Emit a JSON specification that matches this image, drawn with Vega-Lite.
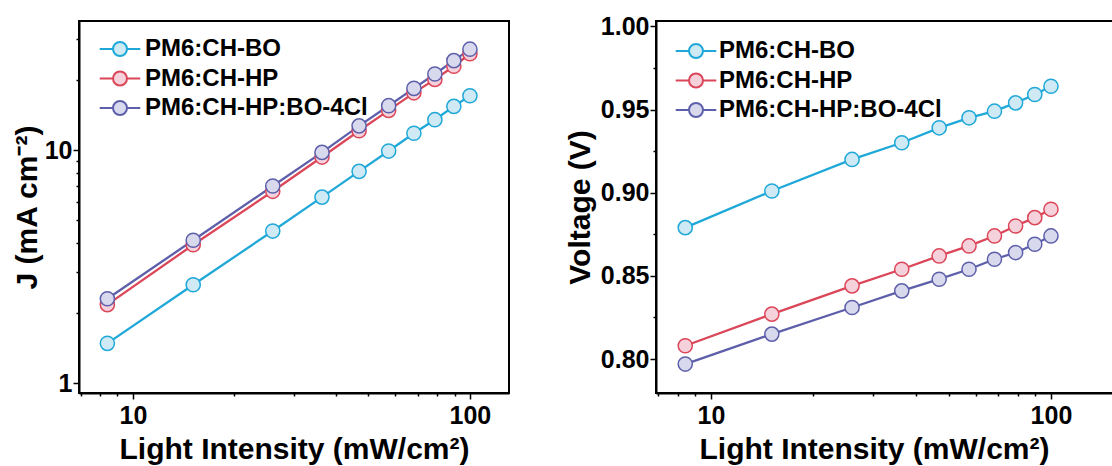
{
  "$schema": "https://vega.github.io/schema/vega-lite/v6.json",
  "autosize": {"type": "pad"},
  "padding": {"left": 11, "top": 13, "right": 0, "bottom": 0},
  "bounds": "flush",
  "spacing": 147,
  "config": {
    "font": "Liberation Sans",
    "view": {"stroke": "black", "strokeWidth": 2},
    "axis": {
      "domainColor": "black", "domainWidth": 2, "tickColor": "black", "tickWidth": 1.5,
      "labelFont": "Liberation Sans", "labelFontWeight": "bold", "labelFontSize": 25, "labelColor": "black",
      "titleFont": "Liberation Sans", "titleFontWeight": "bold", "titleFontSize": 30, "titleColor": "black",
      "grid": false
    },
    "legend": {"labelLimit": 500}
  },
  "datasets": {
    "jsc": [
      {"s": "PM6:CH-BO", "I": 8.4, "J": 1.48}, {"s": "PM6:CH-BO", "I": 15.1, "J": 2.64}, {"s": "PM6:CH-BO", "I": 26, "J": 4.49}, {"s": "PM6:CH-BO", "I": 36.4, "J": 6.28}, {"s": "PM6:CH-BO", "I": 46.9, "J": 8.1}, {"s": "PM6:CH-BO", "I": 57.4, "J": 9.9}, {"s": "PM6:CH-BO", "I": 68.2, "J": 11.8}, {"s": "PM6:CH-BO", "I": 78.7, "J": 13.5}, {"s": "PM6:CH-BO", "I": 89.6, "J": 15.4}, {"s": "PM6:CH-BO", "I": 100, "J": 17.1},
      {"s": "PM6:CH-HP", "I": 8.4, "J": 2.17}, {"s": "PM6:CH-HP", "I": 15.1, "J": 3.92}, {"s": "PM6:CH-HP", "I": 26, "J": 6.65}, {"s": "PM6:CH-HP", "I": 36.4, "J": 9.33}, {"s": "PM6:CH-HP", "I": 46.9, "J": 12.1}, {"s": "PM6:CH-HP", "I": 57.4, "J": 14.8}, {"s": "PM6:CH-HP", "I": 68.2, "J": 17.6}, {"s": "PM6:CH-HP", "I": 78.7, "J": 20.1}, {"s": "PM6:CH-HP", "I": 89.6, "J": 22.9}, {"s": "PM6:CH-HP", "I": 100, "J": 25.9},
      {"s": "PM6:CH-HP:BO-4Cl", "I": 8.4, "J": 2.3}, {"s": "PM6:CH-HP:BO-4Cl", "I": 15.1, "J": 4.1}, {"s": "PM6:CH-HP:BO-4Cl", "I": 26, "J": 7.01}, {"s": "PM6:CH-HP:BO-4Cl", "I": 36.4, "J": 9.77}, {"s": "PM6:CH-HP:BO-4Cl", "I": 46.9, "J": 12.7}, {"s": "PM6:CH-HP:BO-4Cl", "I": 57.4, "J": 15.5}, {"s": "PM6:CH-HP:BO-4Cl", "I": 68.2, "J": 18.4}, {"s": "PM6:CH-HP:BO-4Cl", "I": 78.7, "J": 21.2}, {"s": "PM6:CH-HP:BO-4Cl", "I": 89.6, "J": 24.2}, {"s": "PM6:CH-HP:BO-4Cl", "I": 100, "J": 27.1}
    ],
    "voc": [
      {"s": "PM6:CH-BO", "I": 8.4, "V": 0.879}, {"s": "PM6:CH-BO", "I": 15.1, "V": 0.901}, {"s": "PM6:CH-BO", "I": 26, "V": 0.92}, {"s": "PM6:CH-BO", "I": 36.4, "V": 0.93}, {"s": "PM6:CH-BO", "I": 46.9, "V": 0.939}, {"s": "PM6:CH-BO", "I": 57.4, "V": 0.945}, {"s": "PM6:CH-BO", "I": 68.2, "V": 0.949}, {"s": "PM6:CH-BO", "I": 78.7, "V": 0.954}, {"s": "PM6:CH-BO", "I": 89.6, "V": 0.959}, {"s": "PM6:CH-BO", "I": 100, "V": 0.964},
      {"s": "PM6:CH-HP", "I": 8.4, "V": 0.808}, {"s": "PM6:CH-HP", "I": 15.1, "V": 0.827}, {"s": "PM6:CH-HP", "I": 26, "V": 0.844}, {"s": "PM6:CH-HP", "I": 36.4, "V": 0.854}, {"s": "PM6:CH-HP", "I": 46.9, "V": 0.862}, {"s": "PM6:CH-HP", "I": 57.4, "V": 0.868}, {"s": "PM6:CH-HP", "I": 68.2, "V": 0.874}, {"s": "PM6:CH-HP", "I": 78.7, "V": 0.88}, {"s": "PM6:CH-HP", "I": 89.6, "V": 0.885}, {"s": "PM6:CH-HP", "I": 100, "V": 0.89},
      {"s": "PM6:CH-HP:BO-4Cl", "I": 8.4, "V": 0.797}, {"s": "PM6:CH-HP:BO-4Cl", "I": 15.1, "V": 0.815}, {"s": "PM6:CH-HP:BO-4Cl", "I": 26, "V": 0.831}, {"s": "PM6:CH-HP:BO-4Cl", "I": 36.4, "V": 0.841}, {"s": "PM6:CH-HP:BO-4Cl", "I": 46.9, "V": 0.848}, {"s": "PM6:CH-HP:BO-4Cl", "I": 57.4, "V": 0.854}, {"s": "PM6:CH-HP:BO-4Cl", "I": 68.2, "V": 0.86}, {"s": "PM6:CH-HP:BO-4Cl", "I": 78.7, "V": 0.864}, {"s": "PM6:CH-HP:BO-4Cl", "I": 89.6, "V": 0.869}, {"s": "PM6:CH-HP:BO-4Cl", "I": 100, "V": 0.874}
    ]
  },
  "hconcat": [
    {
      "width": 430, "height": 372,
      "data": {"name": "jsc"},
      "encoding": {
        "x": {"field": "I", "type": "quantitative",
          "scale": {"type": "log", "domain": [6.92, 130.6], "nice": false},
          "axis": {"title": "Light Intensity (mW/cm²)", "values": [7, 8, 9, 10, 20, 30, 40, 50, 60, 70, 80, 90, 100],
            "format": "d", "labelExpr": "(datum.value == 10 || datum.value == 100) ? datum.label : ''",
            "tickSize": {"condition": {"test": "datum.value == 10 || datum.value == 100", "value": 6}, "value": 3},
            "labelPadding": 4, "titlePadding": 6, "labelFlush": false, "labelOverlap": false}},
        "y": {"field": "J", "type": "quantitative",
          "scale": {"type": "log", "domain": [0.906, 35.8], "nice": false},
          "axis": {"title": "J (mA cm⁻²)", "values": [1, 2, 3, 4, 5, 6, 7, 8, 9, 10, 20, 30],
            "format": "d", "labelExpr": "(datum.value == 1 || datum.value == 10) ? datum.label : ''",
            "tickSize": {"condition": {"test": "datum.value == 1 || datum.value == 10", "value": 6}, "value": 3},
            "labelPadding": 1, "titlePadding": 2, "labelFlush": false, "labelOverlap": false}}
      },
      "layer": [
        {"mark": {"type": "line", "strokeWidth": 2.3},
          "encoding": {"stroke": {"field": "s", "type": "nominal",
            "scale": {"domain": ["PM6:CH-BO", "PM6:CH-HP", "PM6:CH-HP:BO-4Cl"], "range": ["#1FA8D8", "#DC4659", "#5D5FAA"]},
            "legend": {"orient": "none", "legendX": 29, "legendY": 16, "title": null, "padding": 0,
              "symbolType": "M-2.9,0L-1,0M1,0L2.9,0M1,0A1,1,0,1,1,-1,0A1,1,0,1,1,1,0", "symbolSize": 196, "symbolStrokeWidth": 2,
              "labelFont": "Liberation Sans", "labelFontWeight": "bold", "labelFontSize": 24, "labelColor": "black",
              "labelOffset": 13, "rowPadding": 5.5}}}},
        {"mark": {"type": "circle", "size": 200, "strokeWidth": 1.5, "opacity": 1},
          "encoding": {
            "stroke": {"field": "s", "type": "nominal",
              "scale": {"domain": ["PM6:CH-BO", "PM6:CH-HP", "PM6:CH-HP:BO-4Cl"], "range": ["#1FA8D8", "#DC4659", "#5D5FAA"]},
              "legend": {"orient": "none", "legendX": 29, "legendY": 16, "title": null, "padding": 0,
                "symbolType": "M-2.9,0L-1,0M1,0L2.9,0M1,0A1,1,0,1,1,-1,0A1,1,0,1,1,1,0", "symbolSize": 196, "symbolStrokeWidth": 2,
                "labelFont": "Liberation Sans", "labelFontWeight": "bold", "labelFontSize": 24, "labelColor": "black",
                "labelOffset": 13, "rowPadding": 5.5}},
            "fill": {"field": "s", "type": "nominal",
              "scale": {"domain": ["PM6:CH-BO", "PM6:CH-HP", "PM6:CH-HP:BO-4Cl"], "range": ["#CFEAF5", "#F5D2DB", "#D9D9EE"]},
              "legend": {"orient": "none", "legendX": 29, "legendY": 16, "title": null, "padding": 0,
                "symbolType": "M-2.9,0L-1,0M1,0L2.9,0M1,0A1,1,0,1,1,-1,0A1,1,0,1,1,1,0", "symbolSize": 196, "symbolStrokeWidth": 2,
                "labelFont": "Liberation Sans", "labelFontWeight": "bold", "labelFontSize": 24, "labelColor": "black",
                "labelOffset": 13, "rowPadding": 5.5}}
          }}
      ]
    },
    {
      "width": 464, "height": 372,
      "data": {"name": "voc"},
      "encoding": {
        "x": {"field": "I", "type": "quantitative",
          "scale": {"type": "log", "domain": [6.89, 159.6], "nice": false},
          "axis": {"title": "Light Intensity (mW/cm²)", "titleX": 218, "values": [7, 8, 9, 10, 20, 30, 40, 50, 60, 70, 80, 90, 100],
            "format": "d", "labelExpr": "(datum.value == 10 || datum.value == 100) ? datum.label : ''",
            "tickSize": {"condition": {"test": "datum.value == 10 || datum.value == 100", "value": 6}, "value": 3},
            "labelPadding": 4, "titlePadding": 6, "labelFlush": false, "labelOverlap": false}},
        "y": {"field": "V", "type": "quantitative",
          "scale": {"domain": [0.7796, 1.0032], "nice": false, "zero": false},
          "axis": {"title": "Voltage (V)", "values": [0.8, 0.825, 0.85, 0.875, 0.9, 0.925, 0.95, 0.975, 1.0],
            "format": ".2f", "labelExpr": "abs(datum.value * 20 - round(datum.value * 20)) < 0.001 ? datum.label : ''",
            "tickSize": {"condition": {"test": "abs(datum.value * 20 - round(datum.value * 20)) < 0.001", "value": 6}, "value": 3},
            "labelPadding": 1, "titlePadding": 5, "labelFlush": false, "labelOverlap": false}}
      },
      "layer": [
        {"mark": {"type": "line", "strokeWidth": 2.3},
          "encoding": {"stroke": {"field": "s", "type": "nominal",
            "scale": {"domain": ["PM6:CH-BO", "PM6:CH-HP", "PM6:CH-HP:BO-4Cl"], "range": ["#1FA8D8", "#DC4659", "#5D5FAA"]},
            "legend": {"orient": "none", "legendX": 28, "legendY": 18, "title": null, "padding": 0,
              "symbolType": "M-2.9,0L-1,0M1,0L2.9,0M1,0A1,1,0,1,1,-1,0A1,1,0,1,1,1,0", "symbolSize": 196, "symbolStrokeWidth": 2,
              "labelFont": "Liberation Sans", "labelFontWeight": "bold", "labelFontSize": 24, "labelColor": "black",
              "labelOffset": 11, "rowPadding": 5.5}}}},
        {"mark": {"type": "circle", "size": 200, "strokeWidth": 1.5, "opacity": 1},
          "encoding": {
            "stroke": {"field": "s", "type": "nominal",
              "scale": {"domain": ["PM6:CH-BO", "PM6:CH-HP", "PM6:CH-HP:BO-4Cl"], "range": ["#1FA8D8", "#DC4659", "#5D5FAA"]},
              "legend": {"orient": "none", "legendX": 28, "legendY": 18, "title": null, "padding": 0,
                "symbolType": "M-2.9,0L-1,0M1,0L2.9,0M1,0A1,1,0,1,1,-1,0A1,1,0,1,1,1,0", "symbolSize": 196, "symbolStrokeWidth": 2,
                "labelFont": "Liberation Sans", "labelFontWeight": "bold", "labelFontSize": 24, "labelColor": "black",
                "labelOffset": 11, "rowPadding": 5.5}},
            "fill": {"field": "s", "type": "nominal",
              "scale": {"domain": ["PM6:CH-BO", "PM6:CH-HP", "PM6:CH-HP:BO-4Cl"], "range": ["#CFEAF5", "#F5D2DB", "#D9D9EE"]},
              "legend": {"orient": "none", "legendX": 28, "legendY": 18, "title": null, "padding": 0,
                "symbolType": "M-2.9,0L-1,0M1,0L2.9,0M1,0A1,1,0,1,1,-1,0A1,1,0,1,1,1,0", "symbolSize": 196, "symbolStrokeWidth": 2,
                "labelFont": "Liberation Sans", "labelFontWeight": "bold", "labelFontSize": 24, "labelColor": "black",
                "labelOffset": 11, "rowPadding": 5.5}}
          }}
      ]
    }
  ],
  "resolve": {"scale": {"stroke": "independent", "fill": "independent"}, "legend": {"stroke": "independent", "fill": "independent"}}
}
